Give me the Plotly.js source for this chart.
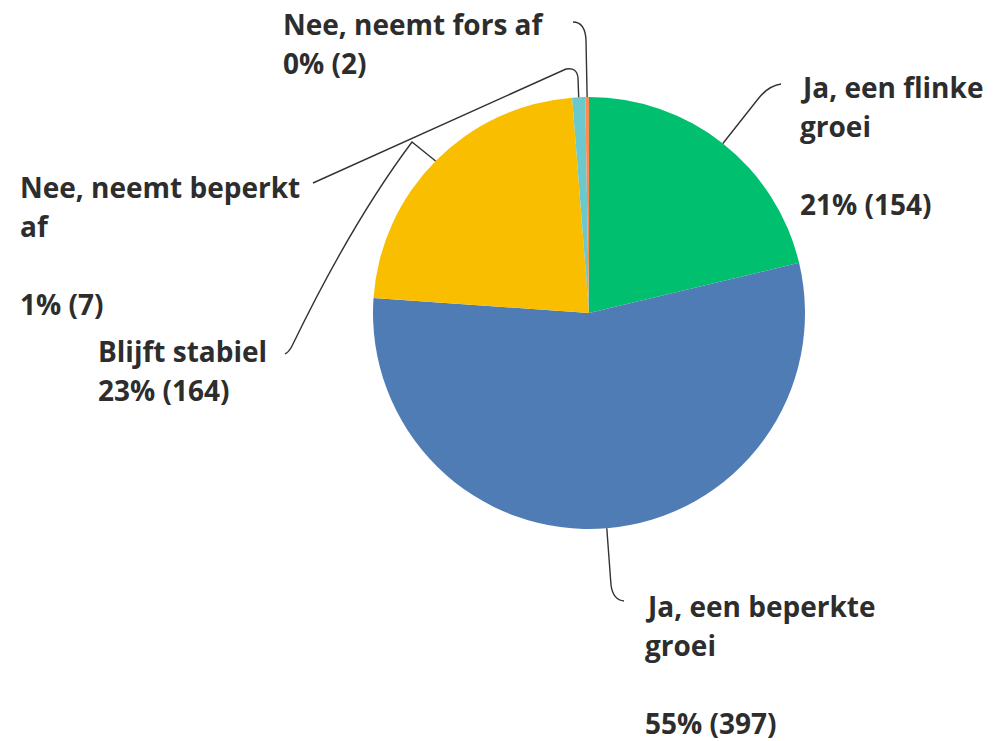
<!DOCTYPE html>
<html>
<head>
<meta charset="utf-8">
<script src="https://cdn.plot.ly/plotly-3.0.1.min.js"></script>
<style>html,body{margin:0;padding:0;background:#fff;}#chart{width:1002px;height:741px;}</style>
</head>
<body>
<div id="chart"></div>
<script>
// ---- data ----
const categories = ["Ja, een flinke groei", "Ja, een beperkte groei", "Blijft stabiel", "Nee, neemt beperkt af", "Nee, neemt fors af"];
const counts = [154, 397, 164, 7, 2];
const colors = ["#00BF6F", "#507CB6", "#F9BE00", "#6BC8CD", "#FF8B4F"];
const labelLines = [["Ja, een flinke", "groei"], ["Ja, een beperkte", "groei"], ["Blijft stabiel"], ["Nee, neemt beperkt", "af"], ["Nee, neemt fors af"]];
const blankBeforeValue = [true, true, false, true, false];

// ---- layout (pixel positions) ----
const W = 1002, H = 741;
const cx = 589, cy = 313, R = 216;
const labelPos = [[800, 98], [645, 617], [98, 362], [20, 198], [283, 35]]; // left, first baseline
const pitch = 39;
const leaderRoutes = [
  "L758,99 Q768,86 781,84",
  "L611,585 Q613,600 624,601",
  "L412,142 Q352,222 292,346 Q289,352 285,354",
  "L578,78 Q577,67 566,69 L313,183",
  "L586,40 Q585,22 573,22"
];
const FS = 28;
const fontFamily = "Open Sans, sans-serif";
const textColor = "#2d2d2d";

const px = x => x / W;
const py = y => 1 - y / H;
const total = counts.reduce((a, b) => a + b, 0);

function convertPath(str) {
  return str.replace(/(-?\d+(?:\.\d+)?),(-?\d+(?:\.\d+)?)/g, (m, a, b) => px(+a).toFixed(5) + "," + py(+b).toFixed(5));
}

const shapes = [];
const annotations = [];
let cum = 0;
counts.forEach((v, i) => {
  const ang = (cum + v / 2) / total * 2 * Math.PI;
  cum += v;
  const sx = cx + R * Math.sin(ang), sy = cy - R * Math.cos(ang);
  shapes.push({
    type: "path", xref: "paper", yref: "paper",
    path: "M" + px(sx).toFixed(5) + "," + py(sy).toFixed(5) + " " + convertPath(leaderRoutes[i]),
    line: {color: "#333333", width: 1.4}
  });
  const pct = Math.round(v / total * 100) + "% (" + v + ")";
  const lines = labelLines[i].slice();
  if (blankBeforeValue[i]) lines.push("");
  lines.push(pct);
  lines.forEach((t, k) => {
    if (!t) return;
    const base = labelPos[i][1] + k * pitch;
    annotations.push({
      xref: "paper", yref: "paper", x: px(labelPos[i][0] - 2), y: py(base - 0.388 * FS),
      xanchor: "left", yanchor: "middle", showarrow: false, text: t,
      font: {family: fontFamily, size: FS, color: textColor, weight: 700}
    });
  });
});

const trace = {
  type: "pie", labels: categories, values: counts, sort: false, direction: "clockwise", rotation: 0,
  marker: {colors: colors, line: {width: 0}}, textinfo: "none", hoverinfo: "none",
  domain: {x: [(cx - R) / W, (cx + R) / W], y: [1 - (cy + R) / H, 1 - (cy - R) / H]}
};

Plotly.newPlot("chart", [trace], {
  width: W, height: H, margin: {l: 0, r: 0, t: 0, b: 0},
  showlegend: false, paper_bgcolor: "#ffffff",
  shapes: shapes, annotations: annotations
}, {staticPlot: true});
</script>
</body>
</html>
